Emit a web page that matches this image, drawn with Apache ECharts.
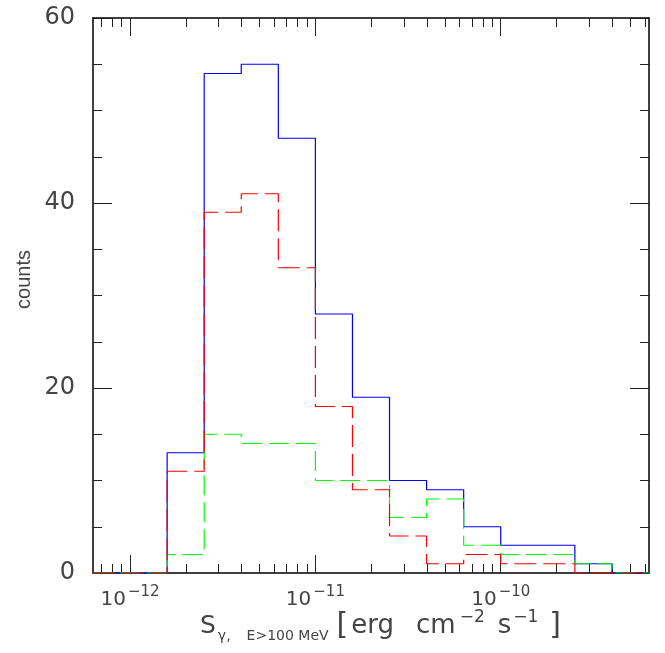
<!DOCTYPE html>
<html>
<head>
<meta charset="utf-8">
<script src="https://cdn.jsdelivr.net/npm/echarts@6/dist/echarts.min.js"></script>
<style>
html,body{margin:0;padding:0;background:#fff;}
#chart{width:665px;height:653px;}
</style>
</head>
<body>
<div id="chart"></div>
<script>
// log10 of flux bin edges (erg cm^-2 s^-1)
const logBinEdges = [-12.2, -12.0, -11.8, -11.6, -11.4, -11.2, -11.0, -10.8, -10.6, -10.4, -10.2, -10.0, -9.8, -9.6, -9.4, -9.2];
// counts per bin
const totalCounts = [0, 0, 13, 54, 55, 47, 28, 19, 10, 9, 5, 3, 3, 1, 0];
const redCounts   = [0, 0, 11, 39, 41, 33, 18, 9, 4, 1, 2, 1, 1, 0, 0];
const greenCounts = [0, 0, 2, 15, 14, 14, 10, 10, 6, 8, 3, 2, 2, 1, 0];
// tick positions
const majorDecades = [-12, -11, -10];
const minorMultipliers = [2, 3, 4, 5, 6, 7, 8, 9];
const yTickLabels = [0, 20, 40, 60];

const xMin = -12.2, xMax = -9.2;
const minorTicks = [];
[-13, -12, -11, -10].forEach(d => {
  minorMultipliers.forEach(m => {
    const v = d + Math.log10(m);
    if (v > xMin && v < xMax) minorTicks.push(v);
  });
});

function stepData(counts) {
  return logBinEdges.map((e, i) => [e, counts[Math.min(i, counts.length - 1)]]);
}

const FONT = 'DejaVu Sans';
const TXT = '#444';

const chart = echarts.init(document.getElementById('chart'), null, {renderer: 'canvas'});

const axisLineStyle = {show: true, lineStyle: {color: '#000', width: 1.5}};
const tickStyle = {color: '#222', width: 1};

function tok(size, lh, extra) {
  return Object.assign({fontFamily: FONT, fontSize: size, lineHeight: lh, fill: TXT, color: TXT}, extra || {});
}

const option = {
  animation: false,
  backgroundColor: '#fff',
  grid: {left: 93, right: 16, top: 18, bottom: 80, containLabel: false},
  xAxis: [
    {
      type: 'value', position: 'bottom', min: xMin, max: xMax,
      axisLine: axisLineStyle,
      splitLine: {show: false},
      axisTick: {show: true, inside: true, length: 18, customValues: majorDecades, lineStyle: tickStyle},
      axisLabel: {
        show: true, customValues: majorDecades, margin: 12,
        formatter: v => '{b|10}{s|\u2212' + Math.round(-v) + '}',
        rich: {
          b: tok(20, 30),
          s: tok(15, 15, {verticalAlign: 'top', padding: [0, 0, 0, 2]})
        }
      }
    },
    {
      type: 'value', position: 'bottom', min: xMin, max: xMax,
      axisLine: {show: false}, splitLine: {show: false},
      axisTick: {show: true, inside: true, length: 9, customValues: minorTicks, lineStyle: tickStyle},
      axisLabel: {show: false}
    },
    {
      type: 'value', position: 'top', min: xMin, max: xMax,
      axisLine: axisLineStyle, splitLine: {show: false},
      axisTick: {show: true, inside: true, length: 18, customValues: majorDecades, lineStyle: tickStyle},
      axisLabel: {show: false}
    },
    {
      type: 'value', position: 'top', min: xMin, max: xMax,
      axisLine: {show: false}, splitLine: {show: false},
      axisTick: {show: true, inside: true, length: 9, customValues: minorTicks, lineStyle: tickStyle},
      axisLabel: {show: false}
    }
  ],
  yAxis: [
    {
      type: 'value', position: 'left', min: 0, max: 60, interval: 20,
      axisLine: axisLineStyle, splitLine: {show: false},
      axisTick: {show: true, inside: true, length: 19, lineStyle: tickStyle},
      minorTick: {show: true, splitNumber: 4, length: 9, lineStyle: tickStyle},
      minorSplitLine: {show: false},
      axisLabel: {show: true, customValues: yTickLabels, margin: 18, fontFamily: FONT, fontSize: 24, color: TXT}
    },
    {
      type: 'value', position: 'right', min: 0, max: 60, interval: 20,
      axisLine: axisLineStyle, splitLine: {show: false},
      axisTick: {show: true, inside: true, length: 19, lineStyle: tickStyle},
      minorTick: {show: true, splitNumber: 4, length: 9, lineStyle: tickStyle},
      minorSplitLine: {show: false},
      axisLabel: {show: false}
    }
  ],
  series: [
    {
      type: 'line', name: 'total', step: 'end', showSymbol: false, symbol: 'none',
      xAxisIndex: 0, yAxisIndex: 0, z: 3,
      data: stepData(totalCounts),
      lineStyle: {color: '#0000ff', width: 1.2, type: 'solid'}
    },
    {
      type: 'line', name: 'green', step: 'end', showSymbol: false, symbol: 'none',
      xAxisIndex: 0, yAxisIndex: 0, z: 4,
      data: stepData(greenCounts),
      lineStyle: {color: '#00ff00', width: 1.2, type: [20, 7]}
    },
    {
      type: 'line', name: 'red', step: 'end', showSymbol: false, symbol: 'none',
      xAxisIndex: 0, yAxisIndex: 0, z: 5,
      data: stepData(redCounts),
      lineStyle: {color: '#ff0000', width: 1.2, type: [22, 7]}
    }
  ],
  graphic: [
    {
      type: 'text', left: 14, top: 250, rotation: Math.PI / 2,
      style: {text: 'counts', fontFamily: 'Liberation Sans', fontSize: 20, fill: TXT}
    },
    {
      type: 'text', left: 200, top: 609,
      style: {
        text: '{S|S}{g|\u03b3,}{e|E>100 MeV}{lb|[}{erg|erg}{cm|cm}{p2|\u22122}{s|s}{p1|\u22121}{rb|]}',
        rich: {
          S: tok(25, 34),
          g: tok(14, 22, {verticalAlign: 'bottom', padding: [0, 0, 0, 2]}),
          e: tok(14, 22, {verticalAlign: 'bottom', padding: [0, 0, 0, 16]}),
          lb: tok(30, 34, {padding: [0, 0, 0, 8]}),
          erg: tok(26, 34, {padding: [0, 0, 0, 3]}),
          cm: tok(26, 34, {padding: [0, 0, 0, 22]}),
          p2: tok(17, 17, {verticalAlign: 'top', padding: [0, 0, 0, 4]}),
          s: tok(26, 34, {padding: [0, 0, 0, 13]}),
          p1: tok(17, 17, {verticalAlign: 'top', padding: [0, 0, 0, 2]}),
          rb: tok(30, 34, {padding: [0, 0, 0, 11]})
        }
      }
    }
  ]
};
chart.setOption(option);
</script>
</body>
</html>
